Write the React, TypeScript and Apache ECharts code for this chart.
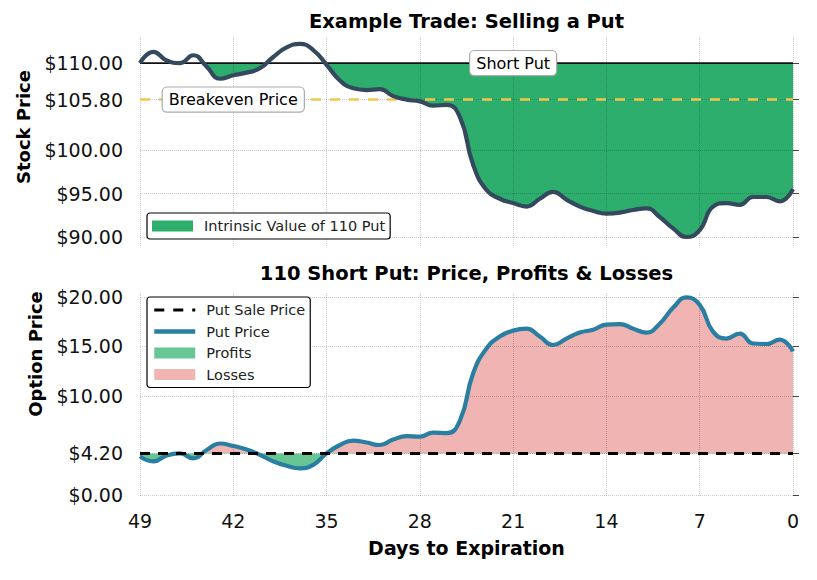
import React, { useEffect, useRef } from 'react';
import * as echarts from 'echarts';

// ---- data ----
const days = [
  49, 48, 47, 46, 45, 44, 43, 42, 41, 40,
  39, 38, 37, 36, 35, 34, 33, 32, 31, 30,
  29, 28, 27, 26, 25, 24, 23, 22, 21, 20,
  19, 18, 17, 16, 15, 14, 13, 12, 11, 10,
  9, 8, 7, 6, 5, 4, 3, 2, 1, 0,
];
const stockPrice = [
  110.0, 111.3, 110.3, 110.0, 110.9, 109.6, 108.2, 108.6, 108.9, 109.4,
  110.7, 111.8, 112.2, 111.5, 109.8, 108.0, 107.1, 106.9, 107.0, 106.2,
  105.8, 105.6, 105.1, 105.2, 103.8, 98.3, 95.4, 94.4, 93.9, 93.5,
  94.4, 95.2, 94.3, 93.5, 93.0, 92.7, 92.8, 93.1, 93.3, 92.3,
  91.0, 90.0, 90.8, 93.5, 93.9, 93.7, 94.6, 94.6, 94.1, 95.5,
];
const putPrice = [
  3.9, 3.4, 4.0, 4.2, 3.7, 4.55, 5.2, 4.95, 4.6, 4.05,
  3.4, 2.95, 2.7, 3.05, 4.2, 5.05, 5.5, 5.3, 5.05, 5.6,
  5.95, 5.9, 6.3, 6.25, 7.5, 12.3, 14.8, 16.0, 16.6, 16.8,
  16.0, 15.15, 15.8, 16.4, 16.7, 17.2, 17.25, 16.8, 16.4, 17.3,
  18.9, 19.95, 19.2, 16.5, 15.8, 16.3, 15.3, 15.25, 15.7, 14.5,
];
const strikePrice = 110;
const putSalePrice = 4.2;
const breakevenPrice = 105.8;
const stockTicks = [90, 95, 100, 105.8, 110];
const optionTicks = [0, 4.2, 10, 15, 20];
const shortPutLabelDay = 21;
const breakevenLabelDay = 42;

const titles = ['Example Trade: Selling a Put', '110 Short Put: Price, Profits & Losses'];
const seriesNames = {
  intrinsic: 'Intrinsic Value of 110 Put',
  shortPut: 'Short Put',
  breakeven: 'Breakeven Price',
  stock: 'Stock Price',
  profits: 'Profits',
  losses: 'Losses',
  putPrice: 'Put Price',
  putSale: 'Put Sale Price',
};

const FONT = 'DejaVu Sans';
const C = {
  topFill: '#2dae6d',
  stock: '#34495e',
  strike: '#111111',
  breakeven: '#f3c64b',
  put: '#2a7ea2',
  profits: '#66c795',
  losses: '#f0b4b3',
  grid: 'rgba(0,0,0,0.2)',
};

const fmt = (v: number) => '$' + Number(v).toFixed(2);

function xAxis(gridIndex: number, showLabels: boolean) {
  return {
    gridIndex,
    type: 'value',
    min: 0,
    max: 49,
    interval: 7,
    inverse: true,
    z: 2,
    axisLine: { show: false },
    axisTick: { show: false },
    axisLabel: { show: showLabels, fontSize: 19, color: '#111', margin: 14, fontFamily: FONT },
    splitLine: { show: true, lineStyle: { color: C.grid, type: 'dotted', width: 1 } },
    name: showLabels ? 'Days to Expiration' : '',
    nameLocation: 'middle',
    nameGap: 41,
    nameTextStyle: { fontSize: 19, fontWeight: 'bold', color: '#000', fontFamily: FONT },
  };
}

function yAxis(gridIndex: number, min: number, max: number, ticks: number[]) {
  return {
    gridIndex,
    type: 'value',
    min,
    max,
    z: 2,
    axisLine: { show: false },
    axisTick: { show: true, inside: true, length: 6, lineStyle: { color: '#444' }, customValues: ticks },
    axisLabel: { customValues: ticks, formatter: fmt, fontSize: 19, color: '#111', margin: 17, fontFamily: FONT },
    splitLine: { show: true, lineStyle: { color: C.grid, type: 'dotted', width: 1 } },
  };
}

const labelBox = (text: string) => ({
  show: true,
  position: 'inside',
  formatter: text,
  fontSize: 16,
  fontFamily: FONT,
  color: '#000',
  backgroundColor: '#ffffff',
  borderColor: '#aaaaaa',
  borderWidth: 1.2,
  borderRadius: 4,
  padding: [4, 6],
});

const legendCommon = {
  orient: 'vertical',
  itemWidth: 41,
  itemHeight: 11,
  itemGap: 5.5,
  padding: [5, 5, 5, 5],
  borderColor: '#000',
  borderWidth: 1.2,
  borderRadius: 3,
  backgroundColor: '#ffffff',
  selectedMode: false,
  z: 6,
  textStyle: { fontSize: 14.5, color: '#222', fontFamily: FONT, lineHeight: 16, padding: [0, 0, 0, 6] },
};

export default function App() {
  const ref = useRef<HTMLDivElement>(null);
  useEffect(() => {
    document.body.style.margin = '0';
    if (!ref.current) return;
    const chart = echarts.init(ref.current, undefined, { renderer: 'svg' });
    const stockPts = days.map((d, i) => [d, stockPrice[i]]);
    const putPts = days.map((d, i) => [d, putPrice[i]]);
    const first = days[0];
    const last = days[days.length - 1];
    const strikeLine = [[first, strikePrice], [last, strikePrice]];
    const beLine = [[first, breakevenPrice], [last, breakevenPrice]];
    const saleLine = [[first, putSalePrice], [last, putSalePrice]];
    const transparent = 'rgba(255,255,255,0)';

    const option: any = {
      animation: false,
      textStyle: { fontFamily: FONT },
      title: [
        { text: titles[0], left: 466.5, top: 11, textAlign: 'center', padding: 0,
          textStyle: { fontSize: 19.5, fontWeight: 'bold', color: '#000', fontFamily: FONT } },
        { text: titles[1], left: 466.5, top: 263, textAlign: 'center', padding: 0,
          textStyle: { fontSize: 19.5, fontWeight: 'bold', color: '#000', fontFamily: FONT } },
      ],
      grid: [
        { left: 140, right: 24, top: 37, height: 208.7 },
        { left: 140, right: 24, top: 293, height: 204 },
      ],
      xAxis: [xAxis(0, false), xAxis(1, true)],
      yAxis: [yAxis(0, 89, 113, stockTicks), yAxis(1, -0.2, 20.4, optionTicks)],
      visualMap: [
        { type: 'piecewise', show: false, seriesIndex: 0, dimension: 1,
          pieces: [{ gte: 0, lte: strikePrice, color: C.topFill }, { gt: strikePrice, lte: 1000, color: transparent }] },
        { type: 'piecewise', show: false, seriesIndex: 4, dimension: 1,
          pieces: [{ gte: -100, lt: putSalePrice, color: C.profits }, { gte: putSalePrice, lte: 1000, color: transparent }] },
        { type: 'piecewise', show: false, seriesIndex: 5, dimension: 1,
          pieces: [{ gte: -100, lt: putSalePrice, color: transparent }, { gte: putSalePrice, lte: 1000, color: C.losses }] },
      ],
      legend: [
        { ...legendCommon, left: 147, top: 213,
          data: [{ name: seriesNames.intrinsic, icon: 'rect', itemStyle: { color: C.topFill, borderWidth: 0 } }] },
        { ...legendCommon, left: 147, top: 297,
          data: [
            { name: seriesNames.putSale, itemStyle: { color: transparent, borderWidth: 0 },
              lineStyle: { color: '#000', width: 3, type: [10, 9] } },
            { name: seriesNames.putPrice, itemStyle: { color: transparent, borderWidth: 0 },
              lineStyle: { color: C.put, width: 4.5 } },
            { name: seriesNames.profits, icon: 'rect', itemStyle: { color: C.profits, borderWidth: 0 } },
            { name: seriesNames.losses, icon: 'rect', itemStyle: { color: C.losses, borderWidth: 0 } },
          ] },
      ],
      graphic: [
        { type: 'text', x: 23, y: 127, rotation: Math.PI / 2,
          style: { text: 'Stock Price', fontSize: 18, fontWeight: 'bold', fontFamily: FONT, fill: '#000',
            align: 'center', verticalAlign: 'middle' } },
        { type: 'text', x: 35, y: 354, rotation: Math.PI / 2,
          style: { text: 'Option Price', fontSize: 18, fontWeight: 'bold', fontFamily: FONT, fill: '#000',
            align: 'center', verticalAlign: 'middle' } },
      ],
      series: [
        { name: seriesNames.intrinsic, type: 'line', xAxisIndex: 0, yAxisIndex: 0, data: stockPts,
          smooth: 0.5, symbol: 'none', silent: true, lineStyle: { width: 0 },
          areaStyle: { origin: strikePrice, opacity: 1 }, z: 1 },
        { name: seriesNames.shortPut, type: 'line', xAxisIndex: 0, yAxisIndex: 0, data: strikeLine,
          symbol: 'none', silent: true, color: C.strike, lineStyle: { color: C.strike, width: 1.8 }, z: 3,
          markPoint: { symbol: 'rect', symbolSize: 1, silent: true, itemStyle: { color: transparent },
            label: labelBox(seriesNames.shortPut), data: [{ coord: [shortPutLabelDay, strikePrice] }] } },
        { name: seriesNames.breakeven, type: 'line', xAxisIndex: 0, yAxisIndex: 0, data: beLine,
          symbol: 'none', silent: true, color: C.breakeven,
          lineStyle: { color: C.breakeven, width: 2.5, type: [10, 9] }, z: 3,
          markPoint: { symbol: 'rect', symbolSize: 1, silent: true, itemStyle: { color: transparent },
            label: labelBox(seriesNames.breakeven), data: [{ coord: [breakevenLabelDay, breakevenPrice] }] } },
        { name: seriesNames.stock, type: 'line', xAxisIndex: 0, yAxisIndex: 0, data: stockPts,
          smooth: 0.5, symbol: 'none', silent: true, color: C.stock,
          lineStyle: { color: C.stock, width: 4.2 }, z: 4 },
        { name: seriesNames.profits, type: 'line', xAxisIndex: 1, yAxisIndex: 1, data: putPts,
          smooth: 0.5, symbol: 'none', silent: true, lineStyle: { width: 0 },
          areaStyle: { origin: putSalePrice, opacity: 1 }, z: 1 },
        { name: seriesNames.losses, type: 'line', xAxisIndex: 1, yAxisIndex: 1, data: putPts,
          smooth: 0.5, symbol: 'none', silent: true, lineStyle: { width: 0 },
          areaStyle: { origin: putSalePrice, opacity: 1 }, z: 1 },
        { name: seriesNames.putPrice, type: 'line', xAxisIndex: 1, yAxisIndex: 1, data: putPts,
          smooth: 0.5, symbol: 'none', silent: true, color: C.put,
          lineStyle: { color: C.put, width: 4.2 }, z: 4 },
        { name: seriesNames.putSale, type: 'line', xAxisIndex: 1, yAxisIndex: 1, data: saleLine,
          symbol: 'none', silent: true, color: '#000',
          lineStyle: { color: '#000', width: 3, type: [10, 8] }, z: 5 },
      ],
    };
    chart.setOption(option);
    return () => chart.dispose();
  }, []);
  return <div ref={ref} style={{ width: 817, height: 580 }} />;
}
